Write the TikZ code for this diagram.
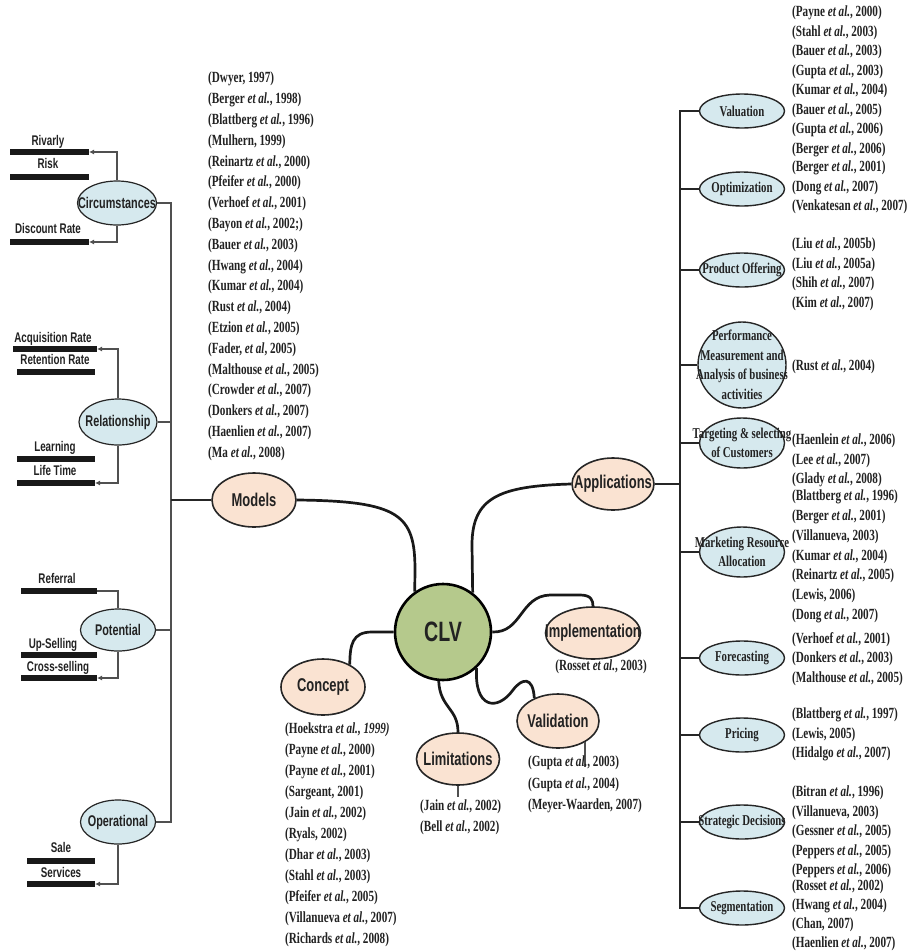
\documentclass[tikz,border=0pt]{standalone}
\usepackage{fontspec}
\usetikzlibrary{shapes.geometric,arrows.meta}
\newfontfamily\citefont[FakeStretch=0.72]{Liberation Serif}
\newfontfamily\sansn[FakeStretch=0.7]{Liberation Sans}
\newcommand{\ea}{\textit{et al.}}
\definecolor{clvgreen}{HTML}{B5C98C}
\definecolor{peach}{HTML}{FAE3D2}
\definecolor{paleblue}{HTML}{D6E9EE}
\definecolor{linegray}{HTML}{505050}
\definecolor{ink}{HTML}{222222}
\tikzset{
  cite/.style={font=\citefont\bfseries\fontsize{15.5}{#1}\selectfont, text=ink, align=left, anchor=north west, inner sep=0pt},
  cite/.default=19.5,
  hub/.style={circle, draw=black, line width=2.6pt, fill=clvgreen, minimum size=96pt, inner sep=0pt, text=ink, font=\sansn\bfseries\fontsize{28}{30}\selectfont},
  topic/.style={ellipse, draw=black!85, line width=1.6pt, fill=peach, inner sep=0pt},
  topiclabel/.style={font=\sansn\bfseries\fontsize{18.5}{20}\selectfont, text=ink, inner sep=0pt},
  leaf/.style={ellipse, draw=black!85, line width=1.4pt, fill=paleblue, inner sep=0pt, minimum width=85pt, minimum height=34pt},
  leaflabel/.style={font=\citefont\bfseries\fontsize{15}{19.5}\selectfont, align=center, text=ink, inner sep=0pt},
  side/.style={ellipse, draw=black!85, line width=1.2pt, fill=paleblue, inner sep=0pt},
  sidelabel/.style={font=\sansn\bfseries\fontsize{15.5}{17}\selectfont, text=ink, inner sep=0pt},
  tag/.style={font=\sansn\bfseries\fontsize{14}{16}\selectfont, text=ink, inner sep=0pt, anchor=base},
  bar/.style={line width=5.5pt, black!90},
  spoke/.style={line width=2.7pt, black!90},
  thinline/.style={line width=1.2pt, linegray},
  thinarr/.style={thinline, -{Latex[length=5pt,width=5pt]}},
  branch/.style={line width=1.7pt, black!85},
  trunkline/.style={line width=1.6pt, black!85},
}
\begin{document}
\begin{tikzpicture}[x=1pt,y=-1pt]
\fill[white] (0,0) rectangle (912,951);
\useasboundingbox (0,0) rectangle (912,951);

% ---------- central hub and topics ----------
\node[hub] (clv) at (443,632) {CLV};
\node[topic, minimum width=84pt, minimum height=54pt] (models) at (254,500) {};
\node[topiclabel] (models-t) at (models.center) {Models};
\node[topic, minimum width=82pt, minimum height=52pt] (apps) at (613,484) {};
\node[topiclabel] (apps-t) at (apps.center) {Applications};
\node[topic, minimum width=95pt, minimum height=52pt] (impl) at (593,633) {};
\node[topiclabel] (impl-t) at (impl.center) {Implementation};
\node[topic, minimum width=82pt, minimum height=54pt] (valid) at (558,721) {};
\node[topiclabel] (valid-t) at (valid.center) {Validation};
\node[topic, minimum width=83pt, minimum height=52pt] (limit) at (458,759) {};
\node[topiclabel] (limit-t) at (limit.center) {Limitations};
\node[topic, minimum width=84pt, minimum height=56pt] (concept) at (323,687) {};
\node[topiclabel] (concept-t) at (concept.center) {Concept};

% spokes
\draw[spoke] (models.east) .. controls (400,501) and (415,515) .. (415,570) -- (clv.125);
\draw[spoke] (clv.53) -- (472,545) .. controls (472,497) and (500,486) .. (apps.west);
\draw[spoke] (clv.east) .. controls (522,633) and (520,596) .. (550,595) -- (580,595) .. controls (591,595) and (593,600) .. (impl.north);
\draw[spoke] (clv.-47) .. controls (474,708) and (497,712) .. (513,690) .. controls (522,678) and (533,676) .. (valid.136);
\draw[spoke] (clv.-95) .. controls (440,708) and (458,708) .. (limit.north);
\draw[spoke] (clv.west) -- (372,632) .. controls (352,632) and (350,645) .. (concept.40);

% small ticks
\coordinate (limtick) at (458,797);
\draw[thinline] (limit.south) -- (limtick);
\coordinate (valtick) at (585,767);
\draw[thinline] (valtick |- valid.-37) -- (valtick);

% citations near hub
\node[cite, anchor=center] (c-impl) at (601,667) {(Rosset \ea, 2003)};
\node[cite=21] (c-limit) at (420,800) {(Jain \ea, 2002)\\(Bell \ea, 2002)};
\node[cite=21.5] (c-valid) at (528,756) {(Gupta \ea, 2003)\\(Gupta \ea, 2004)\\(Meyer-Waarden, 2007)};
\node[cite=21] (c-concept) at (285,723) {(Hoekstra \textit{et al., 1999)}\\(Payne \ea, 2000)\\(Payne \ea, 2001)\\(Sargeant, 2001)\\(Jain \ea, 2002)\\(Ryals, 2002)\\(Dhar \ea, 2003)\\(Stahl \ea, 2003)\\(Pfeifer \ea, 2005)\\(Villanueva \ea, 2007)\\(Richards \ea, 2008)};
\node[cite=20.8] (c-models) at (208,72) {(Dwyer, 1997)\\(Berger \ea, 1998)\\(Blattberg \ea, 1996)\\(Mulhern, 1999)\\(Reinartz \ea, 2000)\\(Pfeifer \ea, 2000)\\(Verhoef \ea, 2001)\\(Bayon \ea, 2002;)\\(Bauer \ea, 2003)\\(Hwang \ea, 2004)\\(Kumar \ea, 2004)\\(Rust \ea, 2004)\\(Etzion \ea, 2005)\\(Fader, \textit{et al}, 2005)\\(Malthouse \ea, 2005)\\(Crowder \ea, 2007)\\(Donkers \ea, 2007)\\(Haenlien \ea, 2007)\\(Ma \ea, 2008)};

% ---------- left side ----------
\node[side, minimum width=79pt, minimum height=44pt] (circ) at (117,203) {};
\node[sidelabel] (circ-t) at (circ.center) {Circumstances};
\node[side, minimum width=78pt, minimum height=46pt] (rel) at (118,422) {};
\node[sidelabel] (rel-t) at (rel.center) {Relationship};
\node[side, minimum width=75pt, minimum height=42pt] (pot) at (118,630) {};
\node[sidelabel] (pot-t) at (pot.center) {Potential};
\node[side, minimum width=75pt, minimum height=44pt] (oper) at (118,822) {};
\node[sidelabel] (oper-t) at (oper.center) {Operational};

\foreach \n/\t/\lx/\ly/\xa/\xb/\by in {riv/Rivarly/48/140/10/89/152, risk/Risk/48/163/10/89/177, disc/Discount Rate/48/228/10/89/242, acq/Acquisition Rate/53/337/13/97/349, ret/Retention Rate/55/359/17/95/372, learn/Learning/55/446/17/95/459, life/Life Time/55/470/17/95/483, ref/Referral/57/578/21/97/591, up/Up-Selling/53/643/21/97/655, cross/Cross-selling/58/666/21/97/678, sale/Sale/61/847/27/95/861, serv/Services/61/872/27/95/884}
{
  \node[tag] (t-\n) at (\lx,\ly+5) {\t};
  \coordinate (\n-L) at (\xa,\by);
  \coordinate (\n-R) at (\xb,\by);
  \draw[bar] (\n-L) -- (\n-R);
}
\draw[thinarr] (circ.north) |- (riv-R);
\draw[thinarr] (circ.south) |- (disc-R);
\draw[thinarr] (rel.north) |- (acq-R);
\draw[thinarr] (rel.south) |- (life-R);
\draw[thinline] (ref-R) -| (pot.north);
\draw[thinarr] (pot.south) |- (cross-R);
\draw[thinarr] (oper.south) |- (serv-R);

% left trunk
\coordinate (lbot) at (171,822);
\draw[thinline] (circ.east) -| (lbot) -- (oper.east);
\draw[thinline] (rel.east) -- (rel.east -| lbot);
\draw[thinline] (pot.east) -- (pot.east -| lbot);
\draw[branch] (models.west) -- (models.west -| lbot);

% ---------- right side ----------
\node[leaf] (val) at (742,111) {};
\node[leaflabel] (val-t) at (val.center) {Valuation};
\node[leaf] (opt) at (742,189) {};
\node[leaflabel] (opt-t) at (opt.center) {Optimization};
\node[leaf] (prod) at (742,270) {};
\node[leaflabel] (prod-t) at (prod.center) {Product Offering};
\node[leaf, minimum width=88pt, minimum height=86pt] (perf) at (742,365) {};
\node[leaflabel] (perf-t) at (perf.center) {Performance\\Measurement and\\Analysis of business\\activities};
\node[leaf, minimum height=50pt] (targ) at (742,443) {};
\node[leaflabel] (targ-t) at (targ.center) {Targeting \& selecting\\of Customers};
\node[leaf, minimum height=50pt] (mark) at (742,552) {};
\node[leaflabel] (mark-t) at (mark.center) {Marketing Resource\\Allocation};
\node[leaf] (fore) at (742,658) {};
\node[leaflabel] (fore-t) at (fore.center) {Forecasting};
\node[leaf] (pric) at (742,735) {};
\node[leaflabel] (pric-t) at (pric.center) {Pricing};
\node[leaf] (strat) at (742,822) {};
\node[leaflabel] (strat-t) at (strat.center) {Strategic Decisions};
\node[leaf] (seg) at (742,908) {};
\node[leaflabel] (seg-t) at (seg.center) {Segmentation};

\coordinate (rbot) at (680,908);
\draw[trunkline] (val.west) -| (rbot) -- (seg.west);
\foreach \n in {opt,prod,perf,targ,mark,fore,pric,strat}
  \draw[trunkline] (\n.west) -- (\n.west -| rbot);
\draw[branch] (apps.east) -- (apps.east -| rbot);

\node[cite] (c-val) at (792,6) {(Payne \ea, 2000)\\(Stahl \ea, 2003)\\(Bauer \ea, 2003)\\(Gupta \ea, 2003)\\(Kumar \ea, 2004)\\(Bauer \ea, 2005)\\(Gupta \ea, 2006)\\(Berger \ea, 2006)};
\node[cite] (c-opt) at (792,161) {(Berger \ea, 2001)\\(Dong \ea, 2007)\\(Venkatesan \ea, 2007)};
\node[cite] (c-prod) at (792,238) {(Liu \ea, 2005b)\\(Liu \ea, 2005a)\\(Shih \ea, 2007)\\(Kim \ea, 2007)};
\node[cite] (c-perf) at (792,360) {(Rust \ea, 2004)};
\node[cite] (c-targ) at (792,434) {(Haenlein \ea, 2006)\\(Lee \ea, 2007)\\(Glady \ea, 2008)};
\node[cite=19.7] (c-mark) at (792,490) {(Blattberg \ea, 1996)\\(Berger \ea, 2001)\\(Villanueva, 2003)\\(Kumar \ea, 2004)\\(Reinartz \ea, 2005)\\(Lewis, 2006)\\(Dong \ea, 2007)};
\node[cite] (c-fore) at (792,632) {(Verhoef \ea, 2001)\\(Donkers \ea, 2003)\\(Malthouse \ea, 2005)};
\node[cite] (c-pric) at (792,708) {(Blattberg \ea, 1997)\\(Lewis, 2005)\\(Hidalgo \ea, 2007)};
\node[cite] (c-strat) at (792,786) {(Bitran \ea, 1996)\\(Villanueva, 2003)\\(Gessner \ea, 2005)\\(Peppers \ea, 2005)\\(Peppers \ea, 2006)};
\node[cite=19] (c-seg) at (792,880) {(Rosset \ea, 2002)\\(Hwang \ea, 2004)\\(Chan, 2007)\\(Haenlien \ea, 2007)};
\end{tikzpicture}
\end{document}
